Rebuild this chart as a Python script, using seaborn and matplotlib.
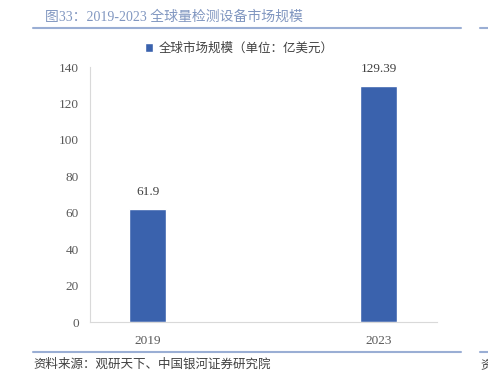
import matplotlib
matplotlib.use("Agg")
import matplotlib.pyplot as plt
import pandas as pd
import seaborn as sns

# data
years = ["2019", "2023"]
market_size = [61.9, 129.39]
series_name = "全球市场规模（单位：亿美元）"
yticks = [0, 20, 40, 60, 80, 100, 120, 140]

title = "图33：2019-2023 全球量检测设备市场规模"
source = "资料来源：观研天下、中国银河证券研究院"

sns.set_style("white")
plt.rcParams["font.family"] = ["Liberation Serif", "Noto Sans CJK SC", "DejaVu Sans"]

df = pd.DataFrame({"year": years, "value": market_size})

fig = plt.figure(figsize=(4.88, 3.71), dpi=100)
ax = fig.add_axes([0.184, 0.132, 0.711, 0.687])

bar_color = "#3A62AD"
sns.barplot(data=df, x="year", y="value", color=bar_color, width=0.16,
            saturation=1, ax=ax, label=series_name)

for p, v in zip(ax.patches, market_size):
    ax.annotate(f"{v:g}", (p.get_x() + p.get_width() / 2, p.get_height()),
                xytext=(0, 8), textcoords="offset points", ha="center",
                va="bottom", fontsize=9.5, color="#404040")

ax.set_xlim(-0.25, 1.25)
ax.set_ylim(0, 140)
ax.set_yticks(yticks)
ax.set_xlabel("")
ax.set_ylabel("")
ax.tick_params(axis="both", length=0, labelsize=9.5, colors="#595959")
ax.tick_params(axis="y", pad=8)
ax.tick_params(axis="x", pad=9)
for s in ["top", "right"]:
    ax.spines[s].set_visible(False)
for s in ["left", "bottom"]:
    ax.spines[s].set_color("#D9D9D9")
    ax.spines[s].set_linewidth(0.8)

leg = ax.legend(loc="lower center", bbox_to_anchor=(0.43, 1.03), frameon=False,
                fontsize=9, handlelength=0.7, handleheight=0.7,
                handletextpad=0.4, borderaxespad=0)
for t in leg.get_texts():
    t.set_color("#404040")

# header / footer
fig.text(45 / 488, 1 - 17 / 371, title, fontsize=10, color="#8096C0",
         ha="left", va="center")
line_color = "#9AAED4"
for y in [28, 352]:
    fig.add_artist(plt.Line2D([33 / 488, 461 / 488], [1 - y / 371] * 2,
                              color=line_color, lw=1.5))
    fig.add_artist(plt.Line2D([480 / 488, 1.0], [1 - y / 371] * 2,
                              color=line_color, lw=1.5))
fig.text(33 / 488, 1 - 365 / 371, source, fontsize=9, color="#404040",
         ha="left", va="center", style="italic")
fig.text(480 / 488, 1 - 365 / 371, "资", fontsize=9, color="#404040",
         ha="left", va="center", style="italic")

fig.savefig("out.png", dpi=100)
